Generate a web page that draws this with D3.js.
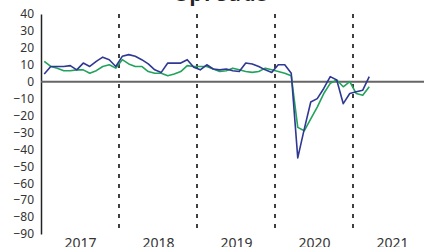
<!DOCTYPE html>
<html>
<head>
<meta charset="utf-8">
<script src="https://cdn.jsdelivr.net/npm/d3@7"></script>
<style>
  html, body { margin: 0; padding: 0; background: #fff; }
  svg { display: block; }
</style>
</head>
<body>
<svg id="chart" width="424" height="247"></svg>
<script>
const title = "Spreads";
const years = [2017, 2018, 2019, 2020, 2021];
const yearLabels = ["2017", "2018", "2019", "2020", "2021"];
const yTicks = [40, 30, 20, 10, 0, -10, -20, -30, -40, -50, -60, -70, -80, -90];
const dividers = [2018, 2019, 2020, 2021];

// monthly values, Jan 2017 .. Mar 2021
const seriesBlue = [
  4.5, 9, 9, 9, 9.5, 7, 11, 9, 12, 14.5, 13, 9,
  15, 16, 15, 13, 10.5, 7, 5.5, 11, 11, 11, 13, 8.5,
  7, 10, 7.5, 7, 7.5, 6.5, 6, 11, 10.5, 9, 7, 5.5,
  10, 10, 5, -45, -28, -12, -10, -4, 3, 1, -13, -7,
  -6, -5, 3
];
const seriesGreen = [
  12, 9, 8, 6.5, 6.5, 7, 7, 5, 6.5, 9, 10, 8,
  13, 10.5, 9, 9, 6, 5, 5, 3.5, 4.5, 6, 9.5, 9,
  9, 9, 7.5, 6, 6.5, 8, 7, 6, 5.5, 6, 8, 7,
  6, 5, 3.5, -27, -29, -22, -15, -7, -1, 1, -3, 0,
  -7, -8, -3
];

const startYear = 2017;
const svg = d3.select("#chart");
const x = d3.scaleLinear().domain([2017, 2022]).range([41, 431]);
const y = d3.scaleLinear().domain([-90, 40]).range([234, 14]);
const monthPos = i => startYear + Math.floor(i / 12) + ((i % 12) + 0.5) / 12;

// title (mostly cut off at top)
svg.append("text")
  .attr("x", 223).attr("y", 1)
  .attr("text-anchor", "middle")
  .attr("font-family", "Noto Sans, sans-serif")
  .attr("font-weight", "bold")
  .attr("font-size", 20)
  .attr("letter-spacing", 2)
  .attr("fill", "#222")
  .text(title);

// dashed year dividers
svg.append("g").selectAll("line").data(dividers).join("line")
  .attr("x1", d => x(d)).attr("x2", d => x(d))
  .attr("y1", y(40)).attr("y2", y(-90))
  .attr("stroke", "#111").attr("stroke-width", 1.6)
  .attr("stroke-dasharray", "4,6");

// y axis
const yAxis = svg.append("g")
  .attr("transform", `translate(${x(2017)},0)`)
  .call(d3.axisLeft(y).tickValues(yTicks).tickSize(0).tickPadding(7).tickFormat(d3.format("d")));
yAxis.select(".domain").attr("stroke", "#222").attr("stroke-width", 1.5);
yAxis.selectAll("text")
  .attr("font-family", "Noto Sans, sans-serif")
  .attr("font-size", 12)
  .attr("fill", "#333");

// x axis labels
const xAxis = svg.append("g")
  .attr("transform", `translate(0,${y(-90)})`)
  .call(d3.axisBottom(x).tickValues(years.map(d => d + 0.5)).tickSize(0).tickPadding(4)
    .tickFormat((d, i) => yearLabels[i]));
xAxis.select(".domain").remove();
xAxis.selectAll("text")
  .attr("font-family", "Noto Sans, sans-serif")
  .attr("font-size", 14)
  .attr("fill", "#333");

// zero line
svg.append("line")
  .attr("x1", x(2017)).attr("x2", 424)
  .attr("y1", y(0)).attr("y2", y(0))
  .attr("stroke", "#666").attr("stroke-width", 2);

const line = d3.line().x((d, i) => x(monthPos(i))).y(d => y(d));

svg.append("path").datum(seriesGreen)
  .attr("fill", "none").attr("stroke", "#22a35c").attr("stroke-width", 1.6)
  .attr("stroke-linejoin", "round")
  .attr("d", line);

svg.append("path").datum(seriesBlue)
  .attr("fill", "none").attr("stroke", "#2f3892").attr("stroke-width", 1.6)
  .attr("stroke-linejoin", "round")
  .attr("d", line);
</script>
</body>
</html>
